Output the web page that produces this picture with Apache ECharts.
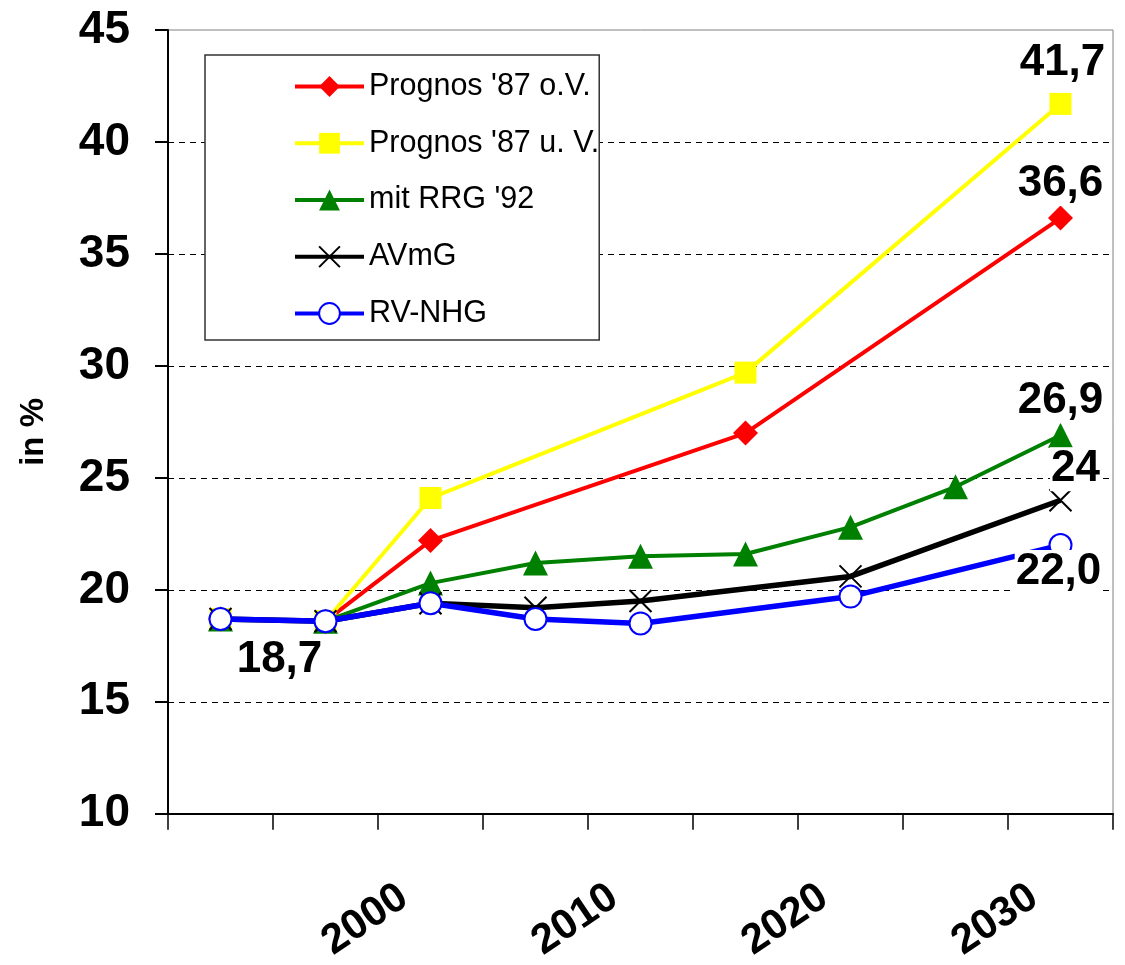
<!DOCTYPE html>
<html><head><meta charset="utf-8">
<script src="https://cdn.jsdelivr.net/npm/echarts@6/dist/echarts.min.js"></script>
<style>html,body{margin:0;padding:0;background:#fff}#c{width:1125px;height:965px}</style>
</head><body><div id="c"></div>
<script>
const categories = ['1990', '1995', '2000', '2005', '2010', '2015', '2020', '2025', '2030'];
const xTickLabels = ['', '', '2000', '', '2010', '', '2020', '', '2030'];
const yTicks = [10, 15, 20, 25, 30, 35, 40, 45];
const seriesNames = ["Prognos '87 o.V.", "Prognos '87 u. V.", "mit RRG '92", "AVmG", "RV-NHG"];
const prognosOV = [18.7, 18.6, 22.2, null, null, 27.0, null, null, 36.6];
const prognosUV = [18.7, 18.6, 24.1, null, null, 29.7, null, null, 41.7];
const mitRRG92  = [18.7, 18.6, 20.3, 21.2, 21.5, 21.6, 22.8, 24.6, 26.9];
const avmg      = [18.7, 18.6, 19.4, 19.2, 19.5, null, 20.6, null, 24.0];
const rvnhg     = [18.7, 18.6, 19.4, 18.7, 18.5, null, 19.7, null, 22.0];
const endLabels = ['36,6', '41,7', '26,9', '24', '22,0'];
const startLabel = '18,7';

const FONT = 'Liberation Sans, Arial, sans-serif';
const values = [prognosOV, prognosUV, mitRRG92, avmg, rvnhg];
const colors = ['#ff0000', '#ffff00', '#008000', '#000000', '#0000ff'];
const symbols = ['diamond', 'rect', 'triangle', 'path://M0,0L20,20M20,0L0,20', 'emptyCircle'];
const symSizes = [25, 22, 25, 22, 22];
const lineWidths = [4, 4, 4, 5.5, 5.5];
const endOffsets = [[0, -34], [2, -41], [0, -34], [15, -31], [-2, 27]];

function lbl(text, offset) {
  return {
    show: true, formatter: text, position: 'inside', offset: offset,
    fontSize: 44, fontWeight: 'bold', fontFamily: FONT, color: '#000',
    backgroundColor: '#fff', padding: [0, 1, 0, 1]
  };
}

const series = values.map((arr, s) => {
  const data = arr.map((v, i) => {
    const item = { value: v === null ? '-' : v };
    if (i === arr.length - 1) item.label = lbl(endLabels[s], endOffsets[s]);
    if (s === 4 && i === 0) item.label = lbl(startLabel, [59, 41]);
    return item;
  });
  const itemStyle = s === 3
    ? { color: 'transparent', borderColor: '#000', borderWidth: 2 }
    : (s === 4 ? { color: colors[s], borderWidth: 2.5 } : { color: colors[s] });
  return {
    name: seriesNames[s], type: 'line', data: data, connectNulls: true,
    symbol: symbols[s], symbolSize: symSizes[s], showAllSymbol: true,
    lineStyle: { color: colors[s], width: lineWidths[s] },
    itemStyle: itemStyle,
    label: { show: false },
    emphasis: { disabled: true },
    z: 2 + s
  };
});

const chart = echarts.init(document.getElementById('c'), null, { renderer: 'canvas' });
chart.setOption({
  animation: false,
  backgroundColor: '#fff',
  grid: { left: 168, right: 12, top: 30, bottom: 150, show: true, borderColor: '#808080', borderWidth: 1 },
  legend: {
    orient: 'vertical', left: 205, top: 55, padding: [16, 0, 11, 88],
    itemWidth: 69, itemHeight: 26, itemGap: 25.75,
    backgroundColor: '#fff', borderColor: '#333', borderWidth: 1.5,
    selectedMode: false,
    lineStyle: { width: 4 },
    textStyle: { fontSize: 30.5, fontFamily: FONT, color: '#000', lineHeight: 30 },
    data: seriesNames
  },
  xAxis: {
    type: 'category', data: categories, boundaryGap: true,
    axisLine: { lineStyle: { color: '#000', width: 2 } },
    axisTick: { show: true, interval: 0, length: 16, lineStyle: { color: '#000', width: 1.5 } },
    axisLabel: {
      interval: 0, formatter: (v, i) => xTickLabels[i], rotate: 34, margin: 62,
      padding: [0, 32, 0, 0],
      fontSize: 42, fontWeight: 'bold', fontFamily: FONT, color: '#000'
    },
    splitLine: { show: false }
  },
  yAxis: {
    type: 'value', min: yTicks[0], max: yTicks[yTicks.length - 1], interval: 5,
    name: 'in %', nameLocation: 'middle', nameGap: 118, nameRotate: 90,
    nameTextStyle: { fontSize: 33, fontWeight: 'bold', fontFamily: FONT, color: '#000', padding: [0, 20, 0, 0] },
    axisLine: { show: true, lineStyle: { color: '#000', width: 2 } },
    axisTick: { show: true, length: 13, lineStyle: { color: '#000', width: 2 } },
    axisLabel: { margin: 38, fontSize: 46, fontWeight: 'bold', fontFamily: FONT, color: '#000' },
    splitLine: {
      show: true,
      lineStyle: {
        color: yTicks.map((t, i) => (i === 0 || i === yTicks.length - 1) ? 'transparent' : '#000'),
        width: 1, type: [6, 5]
      }
    }
  },
  series: series
});
</script></body></html>
